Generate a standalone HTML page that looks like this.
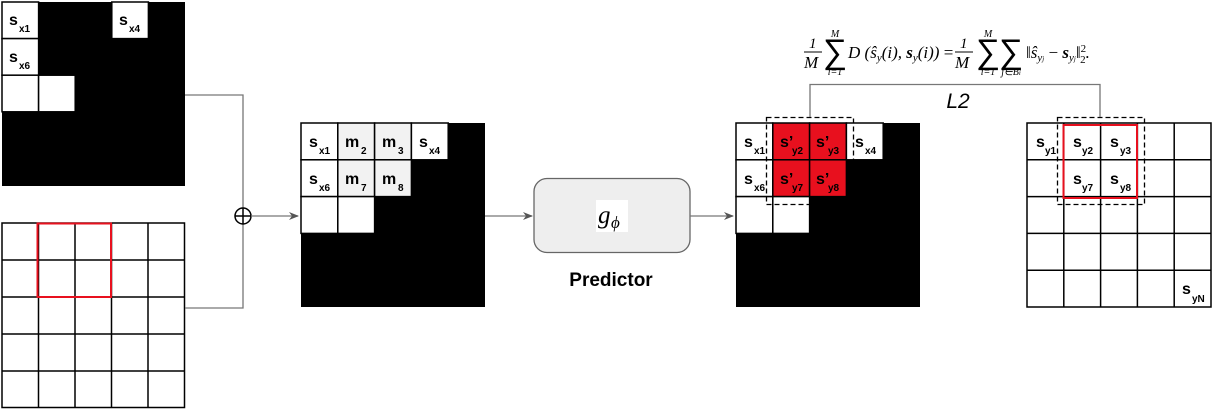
<!DOCTYPE html>
<html><head><meta charset="utf-8"><style>
body{margin:0;background:#fff;width:1214px;height:412px;overflow:hidden}
svg text{font-family:"Liberation Sans",sans-serif}
.s{font-weight:bold;font-size:16px}
.sb{font-weight:bold;font-size:10px}
.m{font-family:"Liberation Serif",serif !important;font-style:italic}
</style></head><body>
<svg width="1214" height="412" viewBox="0 0 1214 412" xmlns="http://www.w3.org/2000/svg">
<defs><marker id="ar" markerWidth="10" markerHeight="8" refX="9" refY="4" orient="auto" markerUnits="userSpaceOnUse"><path d="M0,0 L10,4 L0,8 L3,4z" fill="#555"/></marker></defs>

<!-- Grid A -->
<rect x="2" y="2" width="183" height="184" fill="#000"/>
<g fill="#fff" stroke="#000" stroke-width="1.5">
<rect x="2" y="2" width="36.6" height="36.6"/><rect x="111.8" y="2" width="36.6" height="36.6"/>
<rect x="2" y="38.6" width="36.6" height="36.6"/>
<rect x="2" y="75.2" width="36.6" height="36.6"/><rect x="38.6" y="75.2" width="36.6" height="36.6"/>
</g>
<text class="s" x="9" y="25">s</text><text class="sb" x="19" y="32">x1</text>
<text class="s" x="119" y="25">s</text><text class="sb" x="129" y="32">x4</text>
<text class="s" x="9" y="62">s</text><text class="sb" x="19" y="69">x6</text>

<!-- Grid B -->
<g fill="#fff" stroke="#000" stroke-width="1.5">
<rect x="2" y="223" width="182.5" height="184.5"/>
<path d="M38.5 223V407.5M75 223V407.5M111.5 223V407.5M148 223V407.5M2 260H184.5M2 297H184.5M2 334H184.5M2 371H184.5" fill="none"/>
</g>
<rect x="37.5" y="223.5" width="73.5" height="73.5" fill="none" stroke="#e8101e" stroke-width="2"/>

<!-- connectors -->
<path d="M185 95H243V308H185" fill="none" stroke="#777" stroke-width="1.3"/>
<circle cx="243" cy="216" r="8" fill="#fff" stroke="#000" stroke-width="1.5"/>
<path d="M235 216H251M243 208V224" stroke="#000" stroke-width="1.5"/>
<line x1="251" y1="216" x2="298" y2="216" stroke="#777" stroke-width="1.3" marker-end="url(#ar)"/>

<!-- Grid C -->
<rect x="301" y="123" width="184" height="184" fill="#000"/>
<g stroke="#000" stroke-width="1.5">
<rect x="301" y="123" width="36.8" height="36.8" fill="#fff"/>
<rect x="337.8" y="123" width="36.8" height="36.8" fill="#f2f2f2"/>
<rect x="374.6" y="123" width="36.8" height="36.8" fill="#f2f2f2"/>
<rect x="411.4" y="123" width="36.8" height="36.8" fill="#fff"/>
<rect x="301" y="159.8" width="36.8" height="36.8" fill="#fff"/>
<rect x="337.8" y="159.8" width="36.8" height="36.8" fill="#f2f2f2"/>
<rect x="374.6" y="159.8" width="36.8" height="36.8" fill="#f2f2f2"/>
<rect x="301" y="196.6" width="36.8" height="36.8" fill="#fff"/>
<rect x="337.8" y="196.6" width="36.8" height="36.8" fill="#fff"/>
</g>
<text class="s" x="309" y="147">s</text><text class="sb" x="319" y="154">x1</text>
<text class="s" x="345" y="147">m</text><text class="sb" x="361" y="154">2</text>
<text class="s" x="382" y="147">m</text><text class="sb" x="398" y="154">3</text>
<text class="s" x="419" y="147">s</text><text class="sb" x="429" y="154">x4</text>
<text class="s" x="309" y="184">s</text><text class="sb" x="319" y="191">x6</text>
<text class="s" x="345" y="184">m</text><text class="sb" x="361" y="191">7</text>
<text class="s" x="382" y="184">m</text><text class="sb" x="398" y="191">8</text>

<line x1="485" y1="216" x2="532" y2="216" stroke="#777" stroke-width="1.3" marker-end="url(#ar)"/>
<rect x="534" y="178.5" width="156" height="74" rx="13" fill="#eee" stroke="#666" stroke-width="1.3"/>
<rect x="596" y="200" width="32" height="32" fill="#fff"/>
<text class="m" x="598" y="223" font-size="25">g</text><text class="m" x="611" y="228" font-size="17">ϕ</text>
<text x="611" y="286" text-anchor="middle" font-weight="bold" font-size="19">Predictor</text>
<line x1="690" y1="216" x2="733" y2="216" stroke="#777" stroke-width="1.3" marker-end="url(#ar)"/>

<!-- Grid D -->
<rect x="736" y="123" width="184" height="184" fill="#000"/>
<g stroke="#000" stroke-width="1.5">
<rect x="736" y="123" width="36.8" height="36.8" fill="#fff"/>
<rect x="772.8" y="123" width="36.8" height="36.8" fill="#e8101e"/>
<rect x="809.6" y="123" width="36.8" height="36.8" fill="#e8101e"/>
<rect x="846.4" y="123" width="36.8" height="36.8" fill="#fff"/>
<rect x="736" y="159.8" width="36.8" height="36.8" fill="#fff"/>
<rect x="772.8" y="159.8" width="36.8" height="36.8" fill="#e8101e"/>
<rect x="809.6" y="159.8" width="36.8" height="36.8" fill="#e8101e"/>
<rect x="736" y="196.6" width="36.8" height="36.8" fill="#fff"/>
<rect x="772.8" y="196.6" width="36.8" height="36.8" fill="#fff"/>
</g>
<text class="s" x="744" y="147">s</text><text class="sb" x="754" y="154">x1</text>
<text class="s" x="780" y="147">s’</text><text class="sb" x="792" y="154">y2</text>
<text class="s" x="816" y="147">s’</text><text class="sb" x="828" y="154">y3</text>
<text class="s" x="855" y="147">s</text><text class="sb" x="865" y="154">x4</text>
<text class="s" x="744" y="184">s</text><text class="sb" x="754" y="191">x6</text>
<text class="s" x="780" y="184">s’</text><text class="sb" x="792" y="191">y7</text>
<text class="s" x="816" y="184">s’</text><text class="sb" x="828" y="191">y8</text>
<rect x="766.5" y="117.5" width="87" height="87" fill="none" stroke="#000" stroke-width="1.3" stroke-dasharray="5,3"/>

<!-- Grid E -->
<g fill="#fff" stroke="#000" stroke-width="1.5">
<rect x="1027" y="123" width="184" height="184"/>
<path d="M1063.8 123V307M1100.6 123V307M1137.4 123V307M1174.2 123V307M1027 159.8H1211M1027 196.6H1211M1027 233.4H1211M1027 270.2H1211" fill="none"/>
</g>
<rect x="1063.5" y="125" width="73.5" height="73" fill="none" stroke="#e8101e" stroke-width="2"/>
<rect x="1057.5" y="117.5" width="87" height="87" fill="none" stroke="#000" stroke-width="1.3" stroke-dasharray="5,3"/>
<text class="s" x="1036" y="147">s</text><text class="sb" x="1045" y="154">y1</text>
<text class="s" x="1073" y="147">s</text><text class="sb" x="1082" y="154">y2</text>
<text class="s" x="1110" y="147">s</text><text class="sb" x="1120" y="154">y3</text>
<text class="s" x="1073" y="184">s</text><text class="sb" x="1082" y="191">y7</text>
<text class="s" x="1110" y="184">s</text><text class="sb" x="1120" y="191">y8</text>
<text class="s" x="1182" y="294">s</text><text class="sb" x="1192" y="302">yN</text>

<!-- L2 bracket -->
<path d="M810 117V84.5H1100V117" fill="none" stroke="#777" stroke-width="1.3"/>
<text x="958" y="108" text-anchor="middle" font-style="italic" font-size="21">L2</text>

<!-- formula -->
<g>
<text class="m" x="809" y="48" font-size="15" font-style="normal">1</text>
<line x1="804" y1="52" x2="822" y2="52" stroke="#000" stroke-width="0.9"/>
<text class="m" x="804" y="68" font-size="17">M</text>
<text class="m" x="835" y="37" font-size="10" text-anchor="middle">M</text>
<text x="835" y="63" font-size="34" text-anchor="middle" font-family="Liberation Serif">∑</text>
<text class="m" x="835" y="75" font-size="10" text-anchor="middle" font-style="normal">i=1</text>
<text class="m" x="848" y="58" font-size="17">D (ŝ<tspan font-size="11" dy="3">y</tspan><tspan dy="-3">(i), </tspan><tspan font-weight="bold">s</tspan><tspan font-size="11" dy="3">y</tspan><tspan dy="-3">(i)) </tspan><tspan font-style="normal">=</tspan></text>
<text class="m" x="960" y="48" font-size="15" font-style="normal">1</text>
<line x1="955" y1="52" x2="973" y2="52" stroke="#000" stroke-width="0.9"/>
<text class="m" x="955" y="68" font-size="17">M</text>
<text class="m" x="988" y="37" font-size="10" text-anchor="middle">M</text>
<text x="988" y="63" font-size="34" text-anchor="middle" font-family="Liberation Serif">∑</text>
<text class="m" x="988" y="75" font-size="10" text-anchor="middle" font-style="normal">i=1</text>
<text x="1011" y="63" font-size="34" text-anchor="middle" font-family="Liberation Serif">∑</text>
<text class="m" x="1011" y="75" font-size="10" text-anchor="middle">j∈B<tspan font-size="7">i</tspan></text>
<text class="m" x="1026" y="58" font-size="17"><tspan font-style="normal">‖</tspan>ŝ<tspan font-size="11" dy="3">y<tspan font-size="7">j</tspan></tspan><tspan dy="-3" font-style="normal"> − </tspan><tspan font-weight="bold">s</tspan><tspan font-size="11" dy="3">y<tspan font-size="7">j</tspan></tspan><tspan dy="-3" font-style="normal">‖</tspan><tspan font-size="11" font-style="normal" dy="-6">2</tspan><tspan font-size="11" font-style="normal" dx="-6" dy="11">2</tspan><tspan dy="-5">.</tspan></text>
</g>
</svg>
</body></html>
